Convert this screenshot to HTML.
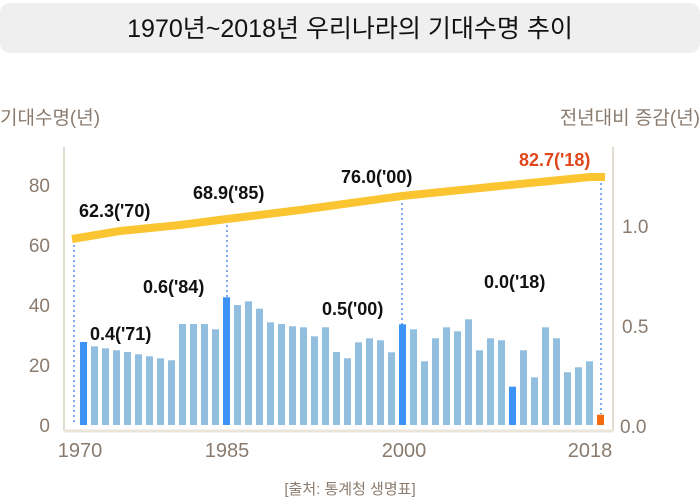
<!DOCTYPE html>
<html><head><meta charset="utf-8"><style>
body{margin:0;background:#fff;}
svg text{font-family:"Liberation Sans","Noto Sans CJK KR",sans-serif;}
</style></head><body>
<svg width="700" height="498" xmlns="http://www.w3.org/2000/svg">
<rect x="0" y="3" width="700" height="50" rx="10" fill="#efefef"/>
<text x="350" y="37" font-size="25" text-anchor="middle" fill="#111">1970년~2018년 우리나라의 기대수명 추이</text>
<text x="0" y="124" font-size="19" fill="#8a7b6e">기대수명(년)</text>
<text x="700" y="124" font-size="19" fill="#8a7b6e" text-anchor="end">전년대비 증감(년)</text>
<line x1="64" y1="147" x2="64" y2="431" stroke="#d8cfc0" stroke-width="1.5"/>
<line x1="613" y1="147" x2="613" y2="431" stroke="#d8cfc0" stroke-width="1.5"/>
<line x1="64" y1="431" x2="613" y2="431" stroke="#ebe5d9" stroke-width="3"/>
<g font-size="19" fill="#8a7b6e" text-anchor="end">
<text x="50" y="192">80</text><text x="50" y="252">60</text><text x="50" y="312">40</text><text x="50" y="372">20</text><text x="50" y="432">0</text>
</g>
<g font-size="19" fill="#8a7b6e">
<text x="622" y="233">1.0</text><text x="622" y="333">0.5</text><text x="620" y="433">0.0</text>
</g>
<g font-size="20" fill="#8a7b6e" text-anchor="middle">
<text x="80" y="457">1970</text><text x="227" y="457">1985</text><text x="404" y="457">2000</text><text x="590" y="457">2018</text>
</g>
<text x="350" y="494" font-size="15" fill="#8a7b6e" text-anchor="middle">[출처: 통계청 생명표]</text>
<g fill="#92bfe0">
<rect x="80" y="342" width="7" height="83" fill="#3d93f5"/>
<rect x="91" y="346.3" width="7" height="78.7"/>
<rect x="102" y="348.3" width="7" height="76.7"/>
<rect x="113" y="350.3" width="7" height="74.7"/>
<rect x="124" y="352" width="7" height="73"/>
<rect x="135" y="354.3" width="7" height="70.7"/>
<rect x="146" y="356.3" width="7" height="68.7"/>
<rect x="157" y="358.3" width="7" height="66.7"/>
<rect x="168" y="360.3" width="7" height="64.7"/>
<rect x="179" y="324" width="7" height="101"/>
<rect x="190" y="324" width="7" height="101"/>
<rect x="201" y="324" width="7" height="101"/>
<rect x="212" y="329.3" width="7" height="95.7"/>
<rect x="223" y="297.3" width="7" height="127.7" fill="#3d93f5"/>
<rect x="234" y="305" width="7" height="120"/>
<rect x="245" y="301.3" width="7" height="123.7"/>
<rect x="256" y="308.7" width="7" height="116.3"/>
<rect x="267" y="322.3" width="7" height="102.7"/>
<rect x="278" y="324" width="7" height="101"/>
<rect x="289" y="326.3" width="7" height="98.7"/>
<rect x="300" y="327.3" width="7" height="97.7"/>
<rect x="311" y="336.3" width="7" height="88.7"/>
<rect x="322" y="327.3" width="7" height="97.7"/>
<rect x="333" y="352" width="7" height="73"/>
<rect x="344" y="358.3" width="7" height="66.7"/>
<rect x="355" y="342.3" width="7" height="82.7"/>
<rect x="366" y="338.3" width="7" height="86.7"/>
<rect x="377" y="340.3" width="7" height="84.7"/>
<rect x="388" y="352.3" width="7" height="72.7"/>
<rect x="399" y="324.3" width="7" height="100.7" fill="#3d93f5"/>
<rect x="410" y="329.3" width="7" height="95.7"/>
<rect x="421" y="361.3" width="7" height="63.7"/>
<rect x="432" y="338.3" width="7" height="86.7"/>
<rect x="443" y="327.3" width="7" height="97.7"/>
<rect x="454" y="331.3" width="7" height="93.7"/>
<rect x="465" y="319.3" width="7" height="105.7"/>
<rect x="476" y="350.3" width="7" height="74.7"/>
<rect x="487" y="338.3" width="7" height="86.7"/>
<rect x="498" y="340.3" width="7" height="84.7"/>
<rect x="509" y="386.7" width="7" height="38.3" fill="#3d93f5"/>
<rect x="520" y="350.3" width="7" height="74.7"/>
<rect x="531" y="377.3" width="7" height="47.7"/>
<rect x="542" y="327.3" width="7" height="97.7"/>
<rect x="553" y="338.3" width="7" height="86.7"/>
<rect x="564" y="372.3" width="7" height="52.7"/>
<rect x="575" y="367.3" width="7" height="57.7"/>
<rect x="586" y="361.3" width="7" height="63.7"/>
<rect x="597" y="414.7" width="7" height="10.3" fill="#f46a10"/>
</g>
<g stroke="#2a6ff0" stroke-width="1.2" stroke-dasharray="2,3">
<line x1="74" y1="240" x2="74" y2="425"/>
<line x1="227" y1="220" x2="227" y2="297"/>
<line x1="402" y1="198" x2="402" y2="325"/>
<line x1="601" y1="178" x2="601" y2="414"/>
</g>
<polyline points="72,239 120,231 180,225 227,219 300,210 402,196 500,186 590,177 605,177" fill="none" stroke="#fbc531" stroke-width="8"/>
<g font-size="18" font-weight="bold" fill="#111">
<text x="79" y="217">62.3('70)</text>
<text x="193" y="199">68.9('85)</text>
<text x="341" y="183">76.0('00)</text>
<text x="519" y="166" fill="#e0471c">82.7('18)</text>
<text x="90" y="340">0.4('71)</text>
<text x="143" y="293">0.6('84)</text>
<text x="322" y="315">0.5('00)</text>
<text x="484" y="288">0.0('18)</text>
</g>
</svg>
</body></html>
